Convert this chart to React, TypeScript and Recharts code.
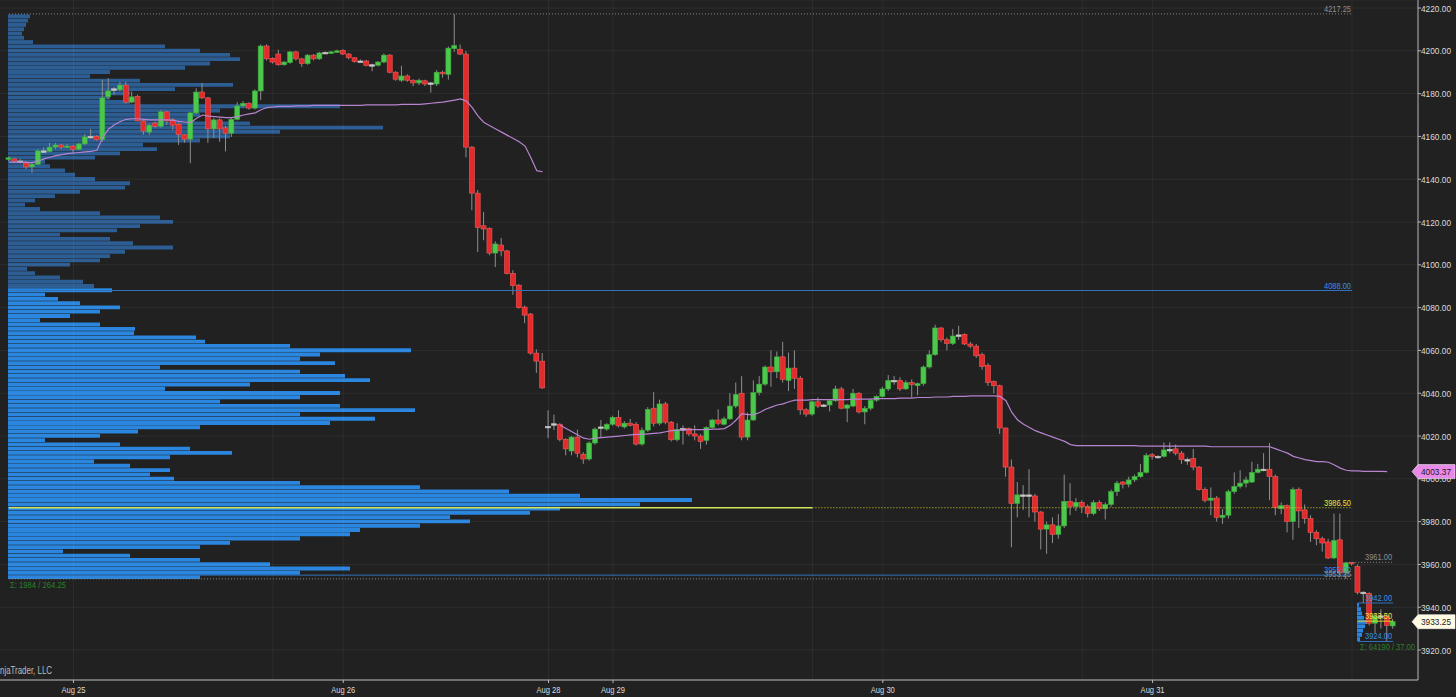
import React from 'react';
import { ComposedChart, Bar, Line, XAxis, YAxis, CartesianGrid, ReferenceLine, Cell } from 'recharts';

type OHLC = [number, number, number, number]; // open, high, low, close

// 30-minute bars
const barsAug25: OHLC[] = [
  [4149.25, 4150.5, 4148.5, 4150], [4149.5, 4150, 4147.5, 4148.5], [4148.5, 4149.5, 4147.5, 4148.5], [4148, 4148.5, 4144.75, 4145.75],
  [4145.75, 4147.5, 4143, 4147], [4147, 4154, 4146.5, 4153.25], [4153, 4155, 4152.5, 4153.25], [4153, 4157, 4152.5, 4155],
  [4155, 4157, 4154, 4156], [4156, 4156.5, 4154, 4155], [4155, 4156.5, 4154.5, 4155.5], [4155.5, 4156, 4152, 4154],
  [4154, 4157, 4153.5, 4156.5], [4156.5, 4161, 4156, 4159.75], [4159.75, 4163.5, 4159, 4160], [4160, 4160.5, 4158, 4158.5],
  [4158.5, 4186.5, 4157.5, 4178], [4178.5, 4187.25, 4177.5, 4181.25], [4182, 4183, 4179.5, 4182.25], [4181.75, 4185.5, 4181, 4184],
  [4184, 4185.5, 4175.5, 4176], [4176, 4181, 4175.5, 4178.5], [4178.75, 4179.5, 4167, 4167.25], [4167.25, 4168, 4160.75, 4162.5],
  [4162, 4166, 4160.75, 4165.25], [4166.25, 4167, 4164, 4164.75], [4164.75, 4172.25, 4164, 4171.5], [4171.5, 4172, 4165.25, 4167.25],
  [4167.75, 4168.5, 4163, 4165.25], [4165.75, 4166.5, 4156, 4161], [4160.75, 4161, 4157, 4158.75], [4158.75, 4171.5, 4147.5, 4171],
  [4171, 4182.5, 4170.5, 4180.75], [4180.75, 4185, 4177.5, 4178], [4178, 4178.5, 4157, 4163.5], [4163.5, 4168.5, 4159.25, 4167.75],
  [4167.75, 4168.5, 4157.5, 4163.5], [4164, 4165, 4153, 4161.5], [4161.5, 4169, 4159.75, 4168], [4168, 4176, 4167.5, 4174.25],
  [4174.25, 4176.5, 4173.5, 4175.5], [4175.5, 4176, 4172.5, 4173.25], [4173.25, 4182, 4172.5, 4181.25], [4181.25, 4203, 4177, 4202.25],
  [4202.25, 4203, 4195.5, 4196.25], [4196.5, 4197, 4194, 4194.75], [4198.5, 4200.5, 4193, 4193.5], [4193.5, 4195.25, 4193, 4194.75],
  [4194.5, 4200, 4194, 4199.5], [4199.5, 4200, 4195.5, 4196.25], [4196.25, 4196.75, 4192.5, 4194], [4194, 4198.5, 4193.5, 4198],
  [4198, 4198.5, 4195.5, 4196.25], [4196.25, 4199.5, 4195.75, 4199], [4199, 4199.75, 4198.5, 4199.25], [4198.75, 4200, 4198.5, 4199.5],
  [4199.25, 4200.5, 4199, 4200],
];

const barsAug26: OHLC[] = [
  [4200.25, 4200.75, 4198, 4198.5], [4198.5, 4199, 4196, 4196.75], [4196.75, 4197, 4194.5, 4195], [4195.25, 4196, 4194.5, 4195.25],
  [4195.25, 4195.75, 4192.75, 4193.25], [4193.25, 4194, 4190.5, 4193.5], [4193.25, 4195.25, 4192.75, 4194.75], [4194.75, 4198.75, 4194.25, 4198],
  [4198, 4198.5, 4189.5, 4190], [4190, 4190.5, 4186, 4186.75], [4186.25, 4193, 4185.5, 4188.25], [4188.25, 4189, 4185.5, 4186.25],
  [4186.25, 4186.75, 4183.5, 4185], [4185, 4187, 4184, 4186.25], [4186, 4186.5, 4183.5, 4184.5], [4184.75, 4185.5, 4180.5, 4185],
  [4184.5, 4191, 4183.5, 4190], [4190, 4190.75, 4187.5, 4189.25], [4189, 4202, 4186.5, 4201.25], [4201, 4217.25, 4199.5, 4202.5],
  [4200.75, 4203, 4198, 4198.5], [4198.5, 4200, 4150.25, 4155], [4155, 4155.5, 4125.5, 4133.5], [4133.5, 4135, 4106, 4117.5],
  [4118.25, 4124.75, 4111.5, 4116.75], [4117, 4117.5, 4104.5, 4105.5], [4105.5, 4111, 4099, 4109.75], [4109.25, 4112.5, 4104, 4106.5],
  [4106.5, 4107, 4095.5, 4096], [4096, 4097.5, 4086, 4090.25], [4090.5, 4091, 4079.5, 4080], [4080.25, 4081, 4072.75, 4076.5],
  [4077, 4077.5, 4058, 4058.75], [4058.75, 4060.5, 4049.5, 4055], [4055, 4058.75, 4042, 4042.5],
];

const barsAug29: OHLC[] = [
  [4024.5, 4032, 4019, 4024.25], [4025.75, 4030, 4022.75, 4025.75], [4025.5, 4026, 4017.5, 4018.5], [4018.5, 4019, 4011, 4014],
  [4013, 4020, 4011, 4019.5], [4019.5, 4023, 4010, 4012], [4011.5, 4012.5, 4007, 4009.25], [4009.25, 4017.5, 4008.5, 4016.75],
  [4016.75, 4024, 4016, 4023.25], [4024.25, 4027.5, 4019.5, 4024.25], [4023.25, 4026, 4022.5, 4025.5], [4025.5, 4029.5, 4024.75, 4028.75],
  [4028.75, 4032, 4024, 4024.75], [4024.25, 4027, 4023.5, 4026], [4026, 4028, 4024.5, 4025], [4025.5, 4026.5, 4015.5, 4016.25],
  [4016.25, 4024, 4015.5, 4022.75], [4022.75, 4033.5, 4022, 4032.5], [4033, 4040.5, 4024.5, 4026], [4026, 4037, 4025, 4035],
  [4035, 4036, 4025.5, 4026.5], [4026.5, 4027, 4017.5, 4018.25], [4018.25, 4026, 4017.5, 4023], [4023.25, 4025, 4016, 4023.5],
  [4023.5, 4024, 4020, 4021], [4021, 4025, 4018, 4020], [4020, 4021, 4014, 4017.5], [4018, 4024.5, 4016, 4024],
  [4024, 4028, 4023.5, 4027.5], [4027.5, 4032.5, 4025, 4026], [4025.5, 4029, 4025, 4028], [4028, 4040, 4027.5, 4034],
  [4034, 4045, 4033, 4039.5], [4040, 4048, 4018, 4019.5], [4019.5, 4031, 4018, 4027.5], [4027.5, 4046, 4027, 4040.25],
  [4040.25, 4048, 4039, 4044.25], [4044.25, 4053, 4043.5, 4052.25], [4052.25, 4060, 4043, 4050], [4050, 4059.5, 4047, 4057],
  [4057, 4064, 4045, 4046.5], [4046, 4059, 4041, 4051.75], [4051.75, 4060, 4042, 4047], [4047, 4048, 4030, 4032.25],
  [4032.25, 4033, 4029, 4030.25], [4030.25, 4036.5, 4029.5, 4036], [4036, 4038, 4033, 4034], [4034.25, 4035, 4033.5, 4034.5],
  [4034.5, 4037, 4031.5, 4036.5], [4036.5, 4043.5, 4036, 4042], [4042, 4043, 4032.5, 4033], [4033, 4035, 4026.5, 4034.5],
  [4034, 4042, 4033.5, 4040], [4040, 4040.5, 4030.5, 4031.25], [4031.25, 4034, 4025.5, 4033], [4033, 4037.5, 4032, 4036.75],
  [4036.75, 4039, 4036, 4038.5],
];

const barsAug30: OHLC[] = [
  [4038.5, 4043, 4038, 4042], [4042, 4048.5, 4041, 4046], [4046, 4048, 4044, 4046], [4046, 4047.5, 4041, 4042],
  [4042, 4046, 4041.5, 4045], [4045, 4046.5, 4038, 4044], [4043.5, 4045, 4039, 4044.5], [4044.5, 4053, 4043.5, 4052.25],
  [4052.25, 4060, 4051.5, 4058], [4058, 4072, 4057.5, 4070.5], [4070.5, 4071, 4064, 4065], [4065, 4066, 4060, 4063.25],
  [4063.25, 4070, 4062.5, 4066.75], [4067, 4071.5, 4065, 4067.25], [4067.5, 4068, 4062.5, 4063], [4063, 4064, 4061, 4062],
  [4062, 4063, 4056.5, 4057.5], [4058, 4059, 4051, 4052.5], [4053, 4054, 4043.5, 4045], [4045.5, 4046, 4040, 4043.5],
  [4043.5, 4044, 4021, 4023.75], [4023.75, 4024, 4001, 4005.5], [4005.5, 4009, 3968, 3988.5], [3988.5, 3998.5, 3982, 3992.5],
  [3992.5, 3997, 3985.5, 3992.5], [3992.5, 4004.5, 3982, 3992.25], [3992, 3993, 3980, 3984.5], [3984.5, 3985, 3967, 3976.5],
  [3976.5, 3980, 3965, 3978.5], [3978.5, 3982, 3970, 3974], [3974, 3983.5, 3972, 3978], [3978, 4002, 3977, 3989.5],
  [3989.5, 3998, 3983, 3987], [3987, 3991, 3985, 3989], [3989, 3990, 3984, 3987], [3987, 3988, 3982, 3983.75],
  [3983.75, 3990, 3983, 3989], [3989, 3990, 3985, 3986], [3986, 3989, 3981, 3988], [3988, 3995, 3987, 3994],
  [3994, 3999, 3992, 3998], [3998.5, 3999, 3995.5, 3997.5], [3997.5, 4001, 3996, 3999.5], [3999.5, 4002, 3998.5, 4001],
  [4001, 4007, 4000.5, 4003], [4003, 4012, 4002.5, 4011],
];

const barsAug31: OHLC[] = [
  [4011.25, 4012, 4009, 4010.5], [4010.5, 4011, 4009.5, 4010.5], [4010.5, 4017, 4010, 4013.5], [4013.5, 4017, 4012, 4013.75],
  [4014, 4016, 4011, 4012], [4012, 4013, 4007, 4009], [4009, 4010, 4006.5, 4009], [4009.5, 4014, 4004, 4005.5],
  [4005.5, 4006, 3994.5, 3995], [3995, 3996, 3989, 3990], [3990, 3996, 3983, 3991], [3991, 3992, 3980, 3982],
  [3982, 3986, 3979, 3983], [3983, 3995, 3981.5, 3994], [3994, 4003, 3993, 3996.5], [3996.5, 4004, 3995.5, 3998],
  [3998, 4001, 3996, 3999.5], [3998.5, 4008, 3998, 4003], [4003, 4007, 4002.5, 4004.5], [4004.5, 4012, 4003.5, 4004.5],
  [4004.5, 4016.75, 3990, 4001], [4001, 4002, 3983, 3986.5], [3986, 3989, 3983.5, 3987.5], [3987.5, 3988, 3975, 3980],
  [3980, 3996, 3971.5, 3995], [3995, 3996, 3977, 3985], [3985.5, 3988, 3979, 3981.5], [3981.5, 3983, 3970.5, 3975],
  [3975, 3976, 3969, 3972], [3972, 3973, 3966, 3970], [3970.5, 3972, 3962.5, 3963], [3963, 3983.75, 3962.5, 3971.25],
  [3971.5, 3983.75, 3954, 3956], [3956, 3961, 3953.25, 3960.75], [3961, 3961, 3959.5, 3960.5], [3959, 3960, 3946, 3947],
  [3947, 3947.5, 3942, 3947], [3946.5, 3947, 3931.5, 3932.5], [3932.5, 3937, 3928, 3936], [3936, 3939, 3930, 3936],
  [3936, 3937, 3924, 3931.5], [3931.25, 3934.5, 3930, 3933.25],
];

// session VWAP (two sessions)
const vwapAug25to26: (number | null)[] = [
  4148, 4148, 4148, 4147.75, 4147.75, 4148.5, 4149.5, 4150.25, 4151, 4151.5,
  4152, 4152.25, 4152.5, 4152.75, 4153, 4153.5, 4159.5, 4163.5, 4165.5, 4167, 4168,
  4168.25, 4168.25, 4168, 4167.75, 4167.75, 4167.75, 4167.75, 4167.5, 4167, 4166.75, 4166.5,
  4168.5, 4170, 4169.5, 4169.25, 4169, 4168.75, 4168.75, 4169.25, 4170, 4170.5,
  4171, 4172.5, 4173.5, 4173.75, 4174, 4174, 4174, 4174.25, 4174.25, 4174.25, 4174.5, 4174.5, 4174.5, 4174.5, 4174.5,
  4174.5, 4174.5, 4174.5, 4174.5, 4174.75, 4174.75, 4174.75, 4174.75, 4174.75, 4174.75, 4175, 4175,
  4175, 4175, 4175.25, 4175.5, 4175.75, 4176, 4176.5, 4177, 4177.5,
  4176.5, 4173.5, 4169.5, 4166.5, 4165, 4163.5, 4162, 4160.5, 4159, 4157.5, 4155.5, 4150, 4144, 4143.5,
];

const vwapAug28to31: (number | null)[] = [
  null, null, 4025, 4023.5, 4022, 4020.5, 4019, 4018.5, 4019, 4019.25, 4019.5,
  4019.75, 4020, 4020.25, 4020.5, 4020.75, 4020.75, 4021, 4021.25, 4021.5, 4022, 4022.5,
  4022.75, 4022.75, 4023, 4023, 4023, 4023, 4023.25, 4023.25, 4023.5,
  4025, 4027.5, 4030.5, 4030, 4030, 4031, 4032.5, 4033.5, 4034.5, 4035, 4036, 4036.75,
  4036.75, 4036.75, 4037, 4037, 4037, 4037, 4037, 4037, 4037, 4037.25, 4037.25, 4037.25, 4037.25,
  4037.5, 4037.5, 4037.5, 4037.5, 4037.75, 4037.75, 4037.75, 4038, 4038, 4038, 4038.25, 4038.25, 4038.25,
  4038.5, 4038.5, 4038.5, 4038.75, 4038.75, 4038.75, 4038.75, 4038.75,
  4038.5, 4036.5, 4031, 4027.5, 4025.5, 4024, 4022.5, 4021.5, 4020.5, 4019.5, 4018.5, 4017.5, 4016, 4015.5,
  4015.5, 4015.5, 4015.5, 4015.5, 4015.5, 4015.5, 4015.5, 4015.5, 4015.5, 4015.5,
  4015.25, 4015.25, 4015.25, 4015.25, 4015.25, 4015.25, 4015.25, 4015.25, 4015.25, 4015.25, 4015.25, 4015.25,
  4015, 4015, 4015, 4015, 4015, 4015, 4015, 4015, 4015, 4015, 4015,
  4014, 4013, 4012, 4010.5, 4009.75, 4009, 4008.5, 4008, 4008, 4007.75, 4006.5, 4005, 4004, 4003.75,
  4003.75, 4003.5, 4003.5, 4003.5, 4003.5, 4003.37, null,
];

// volume profile of the whole range, top level 4216 down to 3954 in 2-point rows
const profileTop = 4216;
const leftProfileVol = [
  22, 20, 18, 16, 14, 16, 25, 157, 192, 222,
  232, 202, 177, 102, 82, 132, 225, 167, 122, 102,
  122, 332, 212, 192, 182, 242, 375, 272, 222, 192,
  135, 149, 112, 87, 37, 42, 57, 67, 87, 122,
  117, 72, 47, 27, 17, 32, 92, 152, 165, 132,
  109, 52, 102, 125, 165, 117, 102, 92, 62, 19,
  27, 52, 75, 86, 104, 37, 50, 72, 112, 92,
  62, 32, 92, 127, 126, 188, 197, 282, 403, 312,
  292, 327, 152, 292, 337, 362, 242, 157, 332, 292,
  212, 332, 407, 292, 367, 322, 192, 130, 92, 37,
  112, 182, 224, 162, 86, 122, 162, 142, 166, 292,
  412, 501, 572, 684, 632, 552, 522, 442, 462, 412,
  352, 342, 292, 222, 192, 55, 122, 192, 262, 342,
  292, 192,
];
const valueAreaHigh = 4088;

// current session profile, 3941 down to 3925
const sessionProfileTop = 3941;
const sessionProfileVol = [2, 4, 5, 7, 10, 8, 6, 5, 3];

const yTicks = [3920, 3940, 3960, 3980, 4000, 4020, 4040, 4060, 4080, 4100, 4120, 4140, 4160, 4180, 4200, 4220];
const xTickIdx = [11, 57, 92, 103, 149, 195];
const xTickLabels = ['Aug 25', 'Aug 26', 'Aug 28', 'Aug 29', 'Aug 30', 'Aug 31'];
const gridIdx = [11, 45, 57, 92, 103, 137, 149, 183, 195, 229];

const DOMAIN: [number, number] = [3906, 4223.75];
const FONT = "'Liberation Sans',Arial,sans-serif";
const SESSION_PROFILE_X = 1349;

const allBars = [...barsAug25, ...barsAug26, ...barsAug29, ...barsAug30, ...barsAug31];
const vwap = [...vwapAug25to26, ...vwapAug28to31];
const rows = allBars.map(([o, h, l, c], i) => ({ i, o, h, l, c, vwap: vwap[i] }));

const profileRows = [
  ...leftProfileVol.map((v, k) => {
    const p = profileTop - 2 * k;
    return { p, range: [0, v], fill: p > valueAreaHigh ? '#2c5d93' : '#2a86df' };
  }),
  ...sessionProfileVol.map((v, k) => ({
    p: sessionProfileTop - 2 * k,
    range: [SESSION_PROFILE_X, SESSION_PROFILE_X + v],
    fill: '#2a86df',
  })),
];

function Candle(props: any) {
  const { x, y, width, height, payload } = props;
  const { o, h, l, c } = payload;
  const k = h === l ? 0 : height / (h - l);
  const yO = y + (h - o) * k;
  const yC = y + (h - c) * k;
  const cx = x + width / 2;
  const doji = Math.abs(c - o) <= 0.25;
  const up = c > o;
  const fill = doji ? '#c8c8c8' : up ? '#4cc94c' : '#e32b2b';
  const stroke = doji ? '#c8c8c8' : up ? '#3aa83a' : '#f05a5a';
  const top = Math.min(yO, yC);
  const bh = Math.max(Math.abs(yO - yC), 1.5);
  return (
    <g>
      <line x1={cx} x2={cx} y1={y} y2={y + height} stroke="#8e8e8e" strokeWidth={1} />
      <rect x={x} y={top} width={width} height={bh} fill={fill} stroke={stroke} strokeWidth={0.6} />
    </g>
  );
}

// narrow text, like the platform's condensed font
function NarrowText({ x, y, text, fill, anchor, len, size = 9 }: any) {
  return (
    <text x={x} y={y} fill={fill} fontSize={size} fontFamily={FONT} textAnchor={anchor} textLength={len} lengthAdjust="spacingAndGlyphs">
      {text}
    </text>
  );
}

function YTick(props: any) {
  const { x, y, payload } = props;
  return <NarrowText x={x} y={y + 3.5} text={Number(payload.value).toFixed(2)} fill="#dcdcdc" anchor="start" len={30} size={9.5} />;
}

function XTick(props: any) {
  const { x, y, payload } = props;
  const label = xTickLabels[xTickIdx.indexOf(payload.value)];
  return <NarrowText x={x} y={y + 8} text={label} fill="#dcdcdc" anchor="middle" len={24} size={9.5} />;
}

function LevelLabel(props: any) {
  const { viewBox, text, fill } = props;
  if (!viewBox) return null;
  return <NarrowText x={viewBox.x + viewBox.width - 1} y={viewBox.y - 2} text={text} fill={fill} anchor="end" len={27} />;
}

function PriceTag(props: any) {
  const { viewBox, text, bg, fg } = props;
  if (!viewBox) return null;
  const x0 = viewBox.x + viewBox.width;
  const y0 = viewBox.y;
  const pts = `${x0 - 6},${y0} ${x0},${y0 - 7} ${x0 + 37},${y0 - 7} ${x0 + 37},${y0 + 7} ${x0},${y0 + 7}`;
  return (
    <g>
      <polygon points={pts} fill={bg} stroke="#f4f4f4" strokeWidth={0.6} />
      <NarrowText x={x0 + 18} y={y0 + 3.5} text={text} fill={fg} anchor="middle" len={30} size={9.5} />
    </g>
  );
}

export default function App() {
  return (
    <div style={{ position: 'relative', width: 1456, height: 697, background: '#212121', overflow: 'hidden', fontFamily: FONT }}>
      <style>{'body{margin:0;background:#212121}'}</style>

      {/* volume profiles, behind the price chart */}
      <div style={{ position: 'absolute', left: 0, top: 0 }}>
        <ComposedChart
          layout="vertical"
          width={1456}
          height={697}
          data={profileRows}
          margin={{ top: 0, right: 38, bottom: 17, left: 8 }}
        >
          <XAxis type="number" domain={[0, 1410]} hide allowDataOverflow />
          <YAxis type="number" dataKey="p" domain={DOMAIN} reversed hide allowDataOverflow />
          <Bar dataKey="range" barSize={4.4} isAnimationActive={false}>
            {profileRows.map((r, k) => (
              <Cell key={k} fill={r.fill} />
            ))}
          </Bar>
        </ComposedChart>
      </div>

      <div style={{ position: 'absolute', left: 0, top: 0 }}>
        <ComposedChart width={1456} height={697} data={rows} margin={{ top: 0, right: 0, bottom: 0, left: 0 }}>
          <CartesianGrid vertical={false} stroke="rgba(255,255,255,0.06)" />
          <XAxis
            dataKey="i"
            type="category"
            ticks={xTickIdx}
            interval={0}
            height={17}
            padding={{ left: 6, right: 22 }}
            axisLine={{ stroke: '#b8b8b8' }}
            tickLine={{ stroke: '#b8b8b8' }}
            tickSize={3}
            tick={<XTick />}
          />
          <YAxis
            orientation="right"
            width={38}
            domain={DOMAIN}
            allowDataOverflow
            ticks={yTicks}
            interval={0}
            axisLine={{ stroke: '#b8b8b8' }}
            tickLine={{ stroke: '#b8b8b8' }}
            tickSize={3}
            tickMargin={0}
            tick={<YTick />}
          />
          {gridIdx.map((g) => (
            <ReferenceLine key={g} x={g} stroke="rgba(255,255,255,0.05)" />
          ))}

          <ReferenceLine segment={[{ x: 0, y: 4217.25 }, { x: 229, y: 4217.25 }]} stroke="#8a8a8a" strokeDasharray="1 2" label={<LevelLabel text="4217.25" fill="#8f8f8f" />} />
          <ReferenceLine segment={[{ x: 0, y: 4088 }, { x: 229, y: 4088 }]} stroke="#2f72bd" label={<LevelLabel text="4088.00" fill="#3b8fe6" />} />
          <ReferenceLine segment={[{ x: 0, y: 3986.5 }, { x: 137, y: 3986.5 }]} stroke="#d2e45a" strokeWidth={1.5} />
          <ReferenceLine segment={[{ x: 137, y: 3986.5 }, { x: 229, y: 3986.5 }]} stroke="#d8d82a" strokeDasharray="1 2" label={<LevelLabel text="3986.50" fill="#e6e640" />} />
          <ReferenceLine segment={[{ x: 0, y: 3955 }, { x: 229, y: 3955 }]} stroke="#2f72bd" label={<LevelLabel text="3955.00" fill="#3b8fe6" />} />
          <ReferenceLine segment={[{ x: 0, y: 3953.25 }, { x: 229, y: 3953.25 }]} stroke="#8a8a8a" strokeDasharray="1 2" label={<LevelLabel text="3953.25" fill="#8f8f8f" />} />
          <ReferenceLine segment={[{ x: 228, y: 3961 }, { x: 236, y: 3961 }]} stroke="#8a8a8a" strokeDasharray="1 2" label={<LevelLabel text="3961.00" fill="#8f8f8f" />} />
          <ReferenceLine segment={[{ x: 230, y: 3942 }, { x: 236, y: 3942 }]} stroke="#2f72bd" label={<LevelLabel text="3942.00" fill="#3b8fe6" />} />
          <ReferenceLine segment={[{ x: 230, y: 3933.5 }, { x: 236, y: 3933.5 }]} stroke="#d8d82a" label={<LevelLabel text="3933.50" fill="#e6e640" />} />
          <ReferenceLine segment={[{ x: 230, y: 3924 }, { x: 236, y: 3924 }]} stroke="#2f72bd" label={<LevelLabel text="3924.00" fill="#3b8fe6" />} />

          <Line dataKey="vwap" stroke="#b784cf" strokeWidth={1.2} dot={false} activeDot={false} connectNulls={false} isAnimationActive={false} />
          <Bar
            dataKey={(d: any) => [d.l, d.h]}
            barSize={5}
            isAnimationActive={false}
            shape={(p: any) => <Candle {...p} />}
          />
        </ComposedChart>
      </div>

      {/* price tags on the axis, drawn above the tick labels */}
      <div style={{ position: 'absolute', left: 0, top: 0 }}>
        <ComposedChart width={1456} height={697} data={rows} margin={{ top: 0, right: 38, bottom: 17, left: 0 }}>
          <XAxis dataKey="i" hide />
          <YAxis domain={DOMAIN} hide allowDataOverflow />
          <ReferenceLine y={4003.37} stroke="none" label={<PriceTag text="4003.37" bg="#e98ae9" fg="#1a1a1a" />} />
          <ReferenceLine y={3933.25} stroke="none" label={<PriceTag text="3933.25" bg="#fffbe3" fg="#1a1a1a" />} />
        </ComposedChart>
      </div>

      <svg width={1456} height={697} style={{ position: 'absolute', left: 0, top: 0, pointerEvents: 'none' }}>
        <NarrowText x={10} y={588} text="Σ: 1984 / 264.25" fill="#2b7f2b" anchor="start" len={56} size={9} />
        <NarrowText x={1360} y={650} text="Σ: 64190 / 37.00" fill="#2b7f2b" anchor="start" len={55} size={9} />
        <NarrowText x={0} y={674} text="njaTrader, LLC" fill="#bdbdbd" anchor="start" len={52} size={10} />
      </svg>
    </div>
  );
}
